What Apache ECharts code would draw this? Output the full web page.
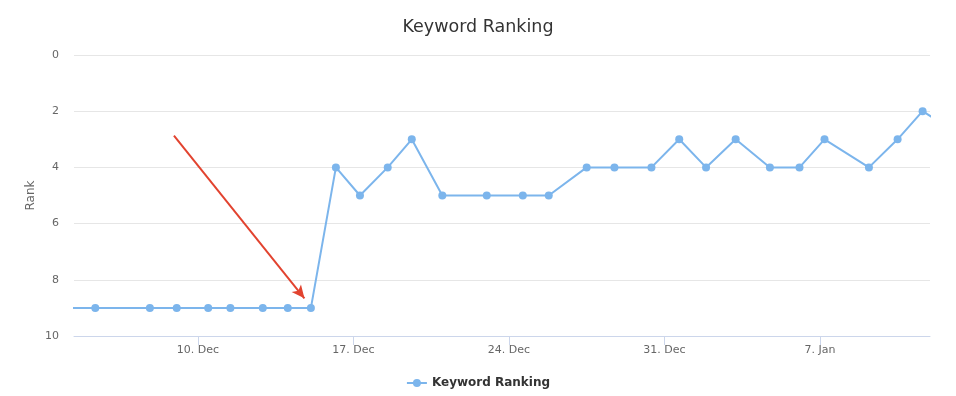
<!DOCTYPE html>
<html><head><meta charset="utf-8">
<script src="https://cdn.jsdelivr.net/npm/echarts@6/dist/echarts.min.js"></script>
<style>html,body{margin:0;padding:0;background:#fff}#c{width:956px;height:396px}</style>
</head><body><div id="c"></div>
<script>
// ---- data ----
const seriesName = 'Keyword Ranking';
const dates = [
  '2018-12-03 12:00','2018-12-05 09:00','2018-12-07 20:00','2018-12-09 01:00','2018-12-10 11:00',
  '2018-12-11 11:00','2018-12-12 22:00','2018-12-14 01:00','2018-12-15 02:00','2018-12-16 05:00',
  '2018-12-17 07:00','2018-12-18 13:00','2018-12-19 15:00','2018-12-21 00:00','2018-12-23 00:00',
  '2018-12-24 15:00','2018-12-25 19:00','2018-12-27 12:00','2018-12-28 18:00','2018-12-30 10:00',
  '2018-12-31 16:00','2019-01-01 21:00','2019-01-03 05:00','2019-01-04 18:00','2019-01-06 02:00',
  '2019-01-07 05:00','2019-01-09 05:00','2019-01-10 12:00','2019-01-11 15:00','2019-01-13 15:00'
];
const ranks = [
  9, 9, 9, 9, 9,
  9, 9, 9, 9, 4,
  5, 4, 3, 5, 5,
  5, 5, 4, 4, 4,
  3, 4, 3, 4, 4,
  3, 4, 3, 2, 3
];
const tickDates = ['2018-12-10','2018-12-17','2018-12-24','2018-12-31','2019-01-07'];
const monthNames = ['Jan','Feb','Mar','Apr','May','Jun','Jul','Aug','Sep','Oct','Nov','Dec'];
const axisStart = '2018-12-04 10:00';
const axisEnd = '2019-01-11 23:00';
const arrowFrom = ['2018-12-08 22:00', 2.87];
const arrowTo = ['2018-12-14 19:00', 8.66];

function toTs(s){
  const parts = s.split(' ');
  const [Y,M,D] = parts[0].split('-').map(Number);
  const [h,m] = (parts[1] || '00:00').split(':').map(Number);
  return Date.UTC(Y, M-1, D, h, m);
}
function fmt(v){
  const d = new Date(v);
  return d.getUTCDate() + '. ' + monthNames[d.getUTCMonth()];
}
const ticks = tickDates.map(toTs);
const seriesData = dates.map((d,i) => [toTs(d), ranks[i]]);

const chart = echarts.init(document.getElementById('c'), null, {renderer:'canvas'});
chart.setOption({
  animation: false,
  textStyle: {fontFamily: '"Lucida Grande","DejaVu Sans",sans-serif'},
  title: {
    text: 'Keyword Ranking', left: 'center', top: 13,
    textStyle: {fontSize: 17.5, fontWeight: 'normal', color: '#333333'}
  },
  legend: {
    bottom: 2, left: 'center',
    data: [seriesName],
    itemWidth: 20, itemHeight: 10, itemGap: 10,
    textStyle: {fontSize: 12, fontWeight: 'bold', color: '#333333'}
  },
  grid: {left: 74, right: 26, top: 55, bottom: 60, containLabel: false},
  xAxis: {
    type: 'value', position: 'bottom',
    min: toTs(axisStart), max: toTs(axisEnd),
    splitLine: {show: false},
    axisLine: {show: true, onZero: false, lineStyle: {color: '#ccd6eb', width: 1}},
    axisTick: {show: true, length: 9, lineStyle: {color: '#ccd6eb'}, customValues: ticks},
    axisLabel: {customValues: ticks, formatter: fmt, color: '#666666', fontSize: 11, margin: 9}
  },
  yAxis: {
    type: 'value', inverse: true, min: 0, max: 10, interval: 2,
    name: 'Rank', nameLocation: 'middle', nameGap: 37, nameMoveOverlap: false,
    nameTextStyle: {color: '#666666', fontSize: 12},
    axisLine: {show: false}, axisTick: {show: false},
    splitLine: {lineStyle: {color: '#e6e6e6'}},
    axisLabel: {color: '#666666', fontSize: 11, margin: 15}
  },
  series: [{
    name: seriesName, type: 'line', data: seriesData,
    symbol: 'circle', symbolSize: 8, clip: true,
    itemStyle: {color: '#7cb5ec'},
    lineStyle: {color: '#7cb5ec', width: 2},
    markLine: {
      silent: true, symbol: ['none','arrow'], symbolSize: [9, 13],
      label: {show: false},
      lineStyle: {color: '#e2432f', width: 2, type: 'solid'},
      emphasis: {disabled: true},
      data: [[{coord: [toTs(arrowFrom[0]), arrowFrom[1]]}, {coord: [toTs(arrowTo[0]), arrowTo[1]]}]]
    }
  }]
});
</script>
</body></html>
